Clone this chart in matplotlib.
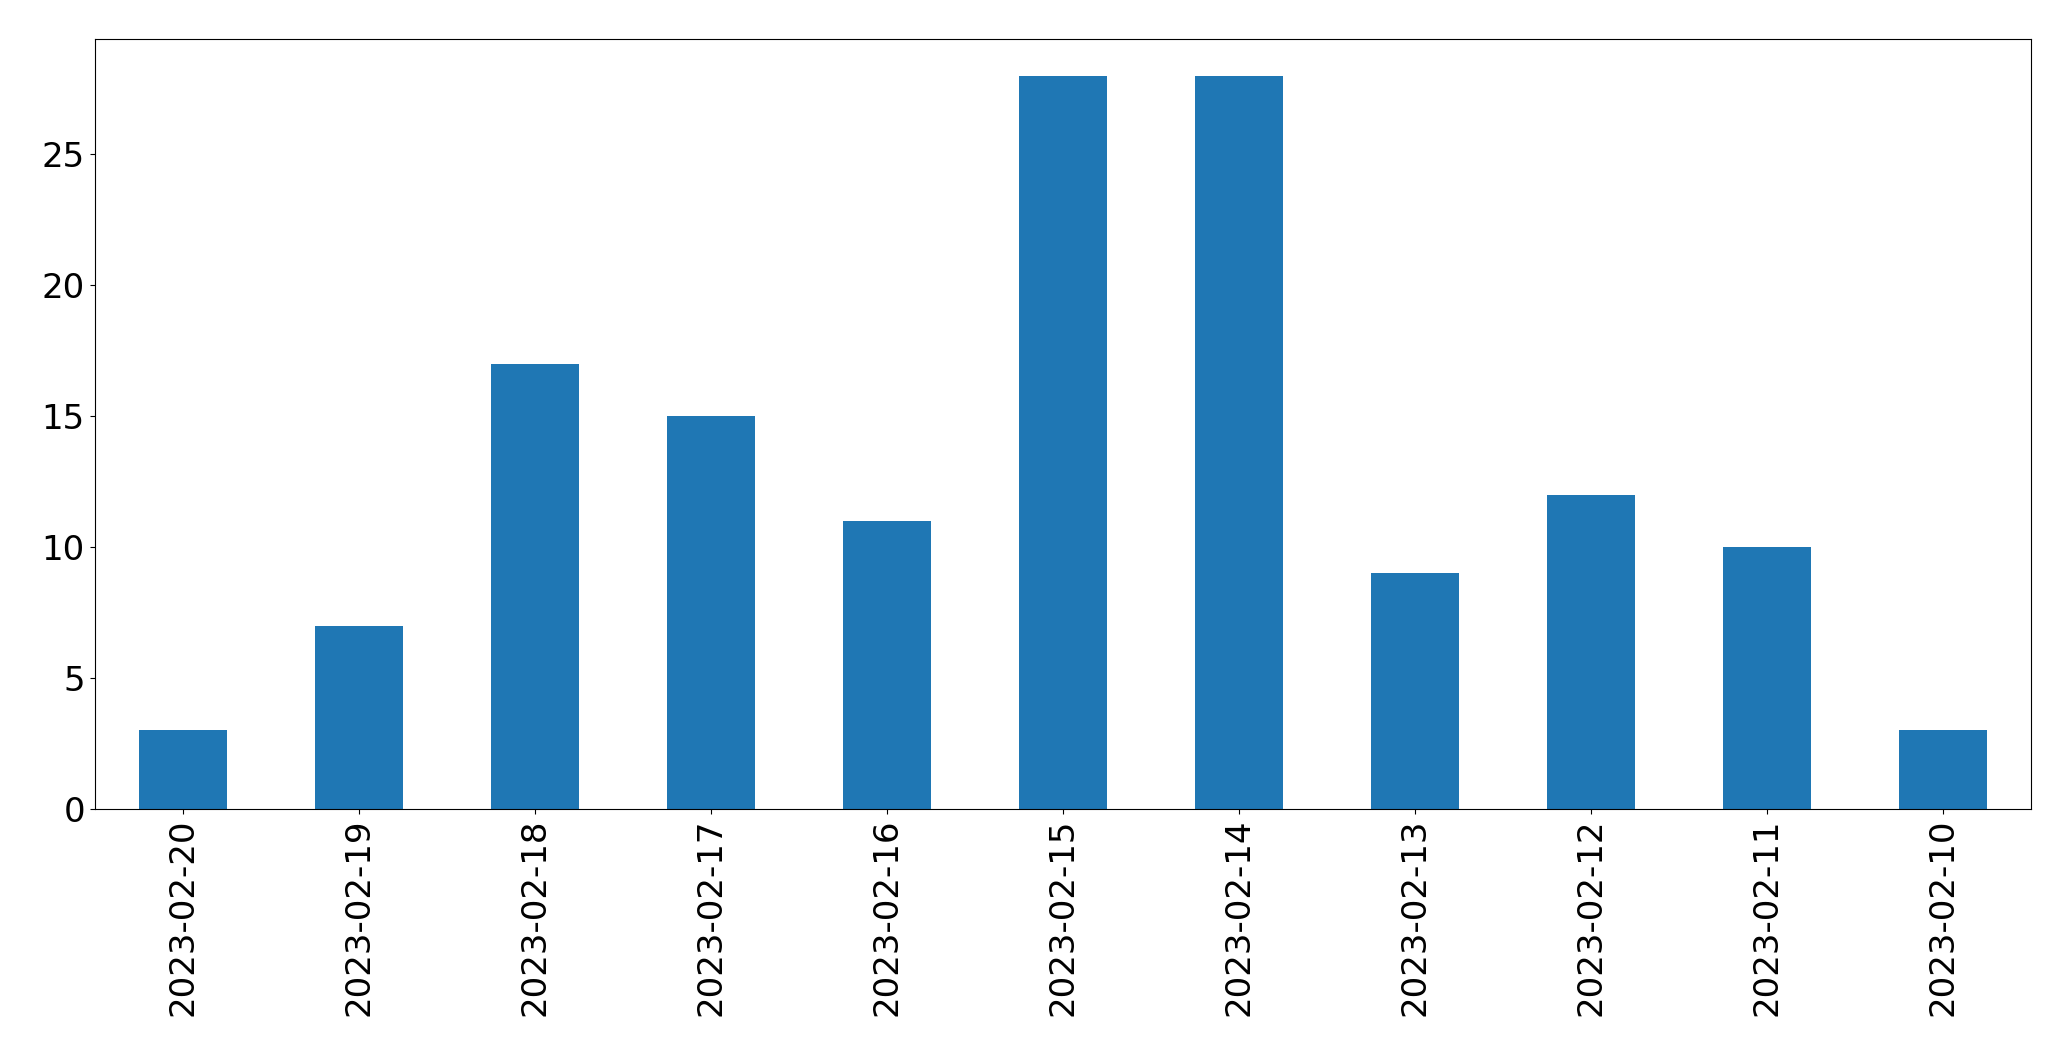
import matplotlib
matplotlib.use('Agg')
import matplotlib.pyplot as plt
import pandas as pd

dates = ['2023-02-20', '2023-02-19', '2023-02-18', '2023-02-17', '2023-02-16',
         '2023-02-15', '2023-02-14', '2023-02-13', '2023-02-12', '2023-02-11',
         '2023-02-10']
counts = [3, 7, 17, 15, 11, 28, 28, 9, 12, 10, 3]

s = pd.Series(counts, index=dates)

fig, ax = plt.subplots(figsize=(20.71, 10.61), dpi=100)
s.plot(kind='bar', ax=ax, color='#1f77b4')
ax.tick_params(axis='both', labelsize=24.5)
ax.set_xlabel('')

plt.subplots_adjust(left=0.0457, right=0.9807, top=0.963, bottom=0.2375)
plt.savefig('out.png', dpi=100)
